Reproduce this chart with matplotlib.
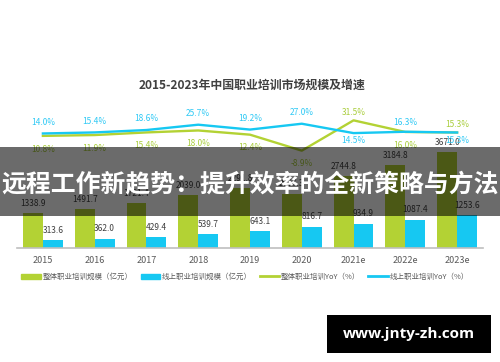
import numpy as np
import matplotlib
matplotlib.use("Agg")
import matplotlib.pyplot as plt
from matplotlib.patches import Rectangle, Patch
from matplotlib.lines import Line2D

plt.rcParams['font.family'] = ['Noto Sans CJK SC', 'DejaVu Sans']

years = ["2015", "2016", "2017", "2018", "2019", "2020", "2021e", "2022e", "2023e"]
total_scale = [1338.9, 1491.7, 1721.4, 2039.0, 2291.8, 2087.3, 2744.8, 3184.8, 3671.0]
online_scale = [313.6, 362.0, 429.4, 539.7, 643.1, 816.7, 934.9, 1087.4, 1253.6]
total_yoy = [10.8, 11.9, 15.4, 18.0, 12.4, -8.9, 31.5, 16.0, 15.3]
online_yoy = [14.0, 15.4, 18.6, 25.7, 19.2, 27.0, 14.5, 16.3, 15.3]

title = "2015-2023年中国职业培训市场规模及增速"
legend_labels = ["整体职业培训规模（亿元）", "线上职业培训规模（亿元）",
                 "整体职业培训YoY（%）", "线上职业培训YoY（%）"]
banner = "远程工作新趋势：提升效率的全新策略与方法"
watermark = "www.jnty-zh.com"

GREEN = "#b3d234"
BLUE = "#16c8f2"
GREEN_TXT = "#a9cd3c"
BLUE_TXT = "#2ec9f5"
DARK = "#404040"

W, H = 500, 362
fig = plt.figure(figsize=(W / 100, H / 100), dpi=100)
fig.patch.set_facecolor("white")

# axes box in pixels: x 17..483, baseline at y=248
ax = fig.add_axes([17 / W, (H - 248) / H, 466 / W, 138.3 / H])
ax2 = ax.twinx()

x = np.arange(len(years))
bw = 0.385
ax.bar(x - bw / 2, total_scale, bw, color=GREEN, zorder=2)
ax.bar(x + bw / 2, online_scale, bw, color=BLUE, zorder=2)
for xi, v in zip(x, total_scale):
    ax.annotate("%.1f" % v, (xi - bw / 2, v), xytext=(0, 7), textcoords="offset points",
                ha="center", va="center", fontsize=6, color=DARK)
for xi, v in zip(x, online_scale):
    ax.annotate("%.1f" % v, (xi + bw / 2, v), xytext=(0, 7), textcoords="offset points",
                ha="center", va="center", fontsize=6, color=DARK)

ax.set_xlim(-0.5, len(years) - 0.5)
ax.set_ylim(0, 5300)
ax.set_xticks(x)
ax.set_xticklabels(years, fontsize=6.5, color="#595959")
ax.tick_params(axis="x", length=0, pad=6)
ax.set_yticks([])
for s in ["top", "left", "right"]:
    ax.spines[s].set_visible(False)
    ax2.spines[s].set_visible(False)
ax2.spines["bottom"].set_visible(False)
ax.spines["bottom"].set_color("#bfbfbf")
ax.spines["bottom"].set_linewidth(1.2)

ax2.plot(x, total_yoy, color=GREEN, lw=1.7, zorder=3)
ax2.plot(x, online_yoy, color=BLUE, lw=1.7, zorder=3)
ax2.set_ylim(-138.7, 45.7)
ax2.set_yticks([])

for xi, g, b in zip(x, total_yoy, online_yoy):
    if g >= b:
        g_off, b_off = 5.5, -5.5
    else:
        g_off = -9.5
        b_off = 8 if abs(g - b) > 2 else 7
    ax2.annotate("%.1f%%" % g, (xi, g), xytext=(0, g_off), textcoords="offset points",
                 ha="center", va="center", fontsize=6, color=GREEN_TXT)
    ax2.annotate("%.1f%%" % b, (xi, b), xytext=(0, b_off), textcoords="offset points",
                 ha="center", va="center", fontsize=6, color=BLUE_TXT)

fig.text(252 / W, 1 - 85 / H, title, ha="center", va="center", fontsize=8.6,
         fontweight="bold", color=DARK)

handles = [Patch(color=GREEN), Patch(color=BLUE),
           Line2D([], [], color=GREEN, lw=2), Line2D([], [], color=BLUE, lw=2)]
leg = fig.legend(handles, legend_labels, loc="center", bbox_to_anchor=(245 / W, 1 - 277 / H),
                 ncol=4, frameon=False, fontsize=5.4, handlelength=2.6, handleheight=0.8,
                 handletextpad=0.2, columnspacing=1.1)
for t in leg.get_texts():
    t.set_color("#595959")

# overlay banner
fig.patches.append(Rectangle((0, 1 - 216 / H), 1, 69 / H, transform=fig.transFigure,
                             facecolor="black", alpha=0.58, zorder=10))
fig.text(0.5, 1 - 184 / H, banner, ha="center", va="center", fontsize=17.9,
         fontweight="bold", color="white", zorder=11)

# watermark
fig.patches.append(Rectangle((327 / W, 1 - 353 / H), 164 / W, 38 / H, transform=fig.transFigure,
                             facecolor="black", zorder=10))
fig.text(409 / W, 1 - 334 / H, watermark, ha="center", va="center", fontsize=11,
         fontweight="bold", color="white", family=["Open Sans", "DejaVu Sans"], zorder=11)

fig.savefig("out.png", dpi=100)
